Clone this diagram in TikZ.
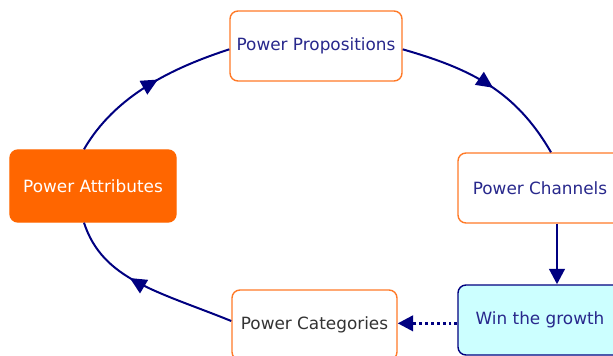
\documentclass[tikz,border=0pt]{standalone}
\usepackage{fontspec}
\setmainfont{DejaVu Sans}
\usepackage{tikz}
\usetikzlibrary{arrows.meta,decorations.markings}
\definecolor{edgeblue}{RGB}{0,0,128}
\definecolor{textblue}{RGB}{40,40,140}
\definecolor{boxorange}{RGB}{255,122,40}
\definecolor{fillorange}{RGB}{255,102,0}
\definecolor{fillcyan}{RGB}{204,255,255}
\tikzstyle{power} = [draw=boxorange, line width=1.2pt, rounded corners=0.24cm, fill=white, inner sep=0pt, text=textblue, font=\fontsize{14.4}{16}\selectfont]
\tikzstyle{attrbox} = [power, draw=fillorange, fill=fillorange, text=white]
\tikzstyle{goal} = [power, draw=edgeblue, fill=fillcyan]
\tikzstyle{link} = [draw=edgeblue, line width=1.7pt]
\tikzstyle{midarrow} = [link, decoration={markings, mark=at position #1 with {\arrow{Triangle[length=0.5cm, width=0.46cm]}}}, postaction={decorate}]

\begin{document}
\begin{tikzpicture}[x=0.03cm, y=0.03cm]
			\useasboundingbox (0,0) rectangle (613,355);
			\clip (0,0) rectangle (613,355);
			\node[power, minimum width=5.16cm, minimum height=2.1cm] (prop) at (316,309) {Power Propositions};
			\node[power, minimum width=4.92cm, minimum height=2.1cm] (chan) at (540,167) {Power Channels};
			\node[goal, minimum width=4.92cm, minimum height=2.1cm] (win) at (540,35) {Win the growth};
			\node[power, text=black!80, minimum width=4.95cm, minimum height=2.1cm] (cat) at (314.5,30) {Power Categories};
			\node[attrbox, minimum width=4.98cm, minimum height=2.16cm] (attr) at (93,169) {Power Attributes};
			\draw[midarrow=0.57] ([xshift=-0.27cm]attr.north) .. controls +(60:62) and +(198:60) .. ([yshift=-0.1cm]prop.west);
			\draw[midarrow=0.53] ([yshift=-0.1cm]prop.east) .. controls +(-16:71) and +(120:71) .. ([xshift=0.33cm]chan.north);
			\draw[link, line width=2.5pt, -{Triangle[length=0.46cm, width=0.46cm]}] ([xshift=0.51cm]chan.south) -- ([xshift=0.51cm]win.north);
			\draw[link, line width=2.5pt, dash pattern=on 2.5pt off 2.5pt, -{Triangle[length=0.46cm, width=0.46cm]}] ([yshift=-0.1cm]win.west) -- ([yshift=-0.1cm]win.west -| cat.east);
			\draw[midarrow=0.6] ([yshift=0.12cm]cat.west) .. controls +(158:80) and +(-72:60) .. ([xshift=-0.27cm]attr.south);
		\end{tikzpicture}
\end{document}
